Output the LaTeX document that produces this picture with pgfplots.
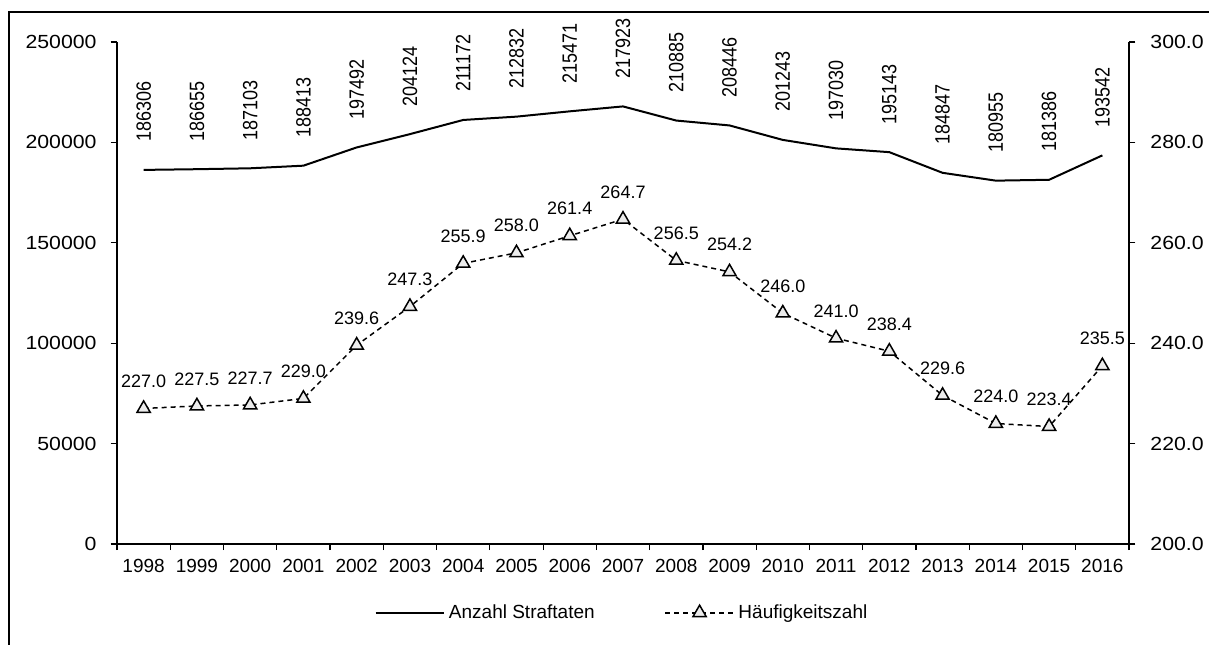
\documentclass[border=0pt]{standalone}
\usepackage{fontspec}
\setmainfont{Liberation Sans}
\newfontfamily\widefont[FakeStretch=1.12]{Liberation Sans}
\usepackage{pgfplots}
\pgfplotsset{compat=1.18}
\begin{document}
\begin{tikzpicture}[x=1pt,y=1pt]
\useasboundingbox (0,0) rectangle (604.5,322);
\draw[line width=0.75pt] (4.5,-1) -- (4.5,316) -- (606,316);
\begin{axis}[
  at={(58.5pt,50pt)}, anchor=south west,
  scale only axis, width=506pt, height=251pt,
  xmin=-0.5, xmax=18.5, ymin=0, ymax=250000,
  axis x line*=bottom, axis y line*=left,
  axis line style={line width=0.8pt},
  tick align=outside,
  scaled y ticks=false,
  xtick={0,...,18},
  xticklabels={1998,1999,2000,2001,2002,2003,2004,2005,2006,2007,2008,2009,2010,2011,2012,2013,2014,2015,2016},
  major x tick style={draw=none},
  minor xtick={-0.5,0.5,...,18.5},
  minor tick length=3pt, major tick length=3.2pt,
  every tick/.style={black, line width=0.6pt},
  ytick={0,50000,100000,150000,200000,250000},
  yticklabels={0,50000,100000,150000,200000,250000},
  yticklabel style={font=\widefont\fontsize{9.5}{11}\selectfont, xshift=-3.5pt},
  xticklabel style={font=\fontsize{9.5}{11}\selectfont, yshift=-1pt},
  clip=false,
]
\addplot[black, line width=1pt, nodes near coords={\scalebox{1}[1.15]{\pgfplotspointmeta}}, point meta=explicit symbolic,
  every node near coord/.style={font=\fontsize{9}{10}\selectfont, yshift=13.5pt, rotate=90, anchor=west, inner sep=0pt}]
coordinates {
(0,186306)[186306] (1,186655)[186655] (2,187103)[187103] (3,188413)[188413]
(4,197492)[197492] (5,204124)[204124] (6,211172)[211172] (7,212832)[212832]
(8,215471)[215471] (9,217923)[217923] (10,210885)[210885] (11,208446)[208446]
(12,201243)[201243] (13,197030)[197030] (14,195143)[195143] (15,184847)[184847]
(16,180955)[180955] (17,181386)[181386] (18,193542)[193542]
};
\end{axis}
\begin{axis}[
  at={(58.5pt,50pt)}, anchor=south west,
  scale only axis, width=506pt, height=251pt,
  xmin=-0.5, xmax=18.5, ymin=200, ymax=300,
  axis x line=none, axis y line*=right,
  axis line style={line width=0.8pt},
  tick align=outside, major tick length=3.2pt,
  every tick/.style={black, line width=0.6pt},
  ytick={200,220,240,260,280,300},
  yticklabels={200.0,220.0,240.0,260.0,280.0,300.0},
  yticklabel style={font=\widefont\fontsize{9.5}{11}\selectfont, xshift=4pt},
  clip=false,
  legend columns=2,
  legend style={at={(0.5,-0.137)}, anchor=center, draw=none, fill=none,
    font=\fontsize{9.5}{11}\selectfont,
    /tikz/every even column/.append style={column sep=33pt}},
  legend image code/.code={\draw[mark repeat=2,mark phase=2,#1] plot coordinates {(0cm,0cm) (0.6cm,0cm) (1.2cm,0cm)};},
]
\addlegendimage{black, line width=1pt}
\addlegendentry{Anzahl Straftaten}
\addplot[black, line width=0.75pt, dash pattern=on 2.5pt off 2pt,
  mark=triangle*, mark size=3.8pt,
  mark options={solid, fill=gray!15, draw=black, line width=0.75pt},
  nodes near coords, point meta=explicit symbolic,
  every node near coord/.style={font=\fontsize{9}{10}\selectfont, anchor=south, inner sep=0pt, yshift=10pt}]
coordinates {
(0,227.0)[227.0] (1,227.5)[227.5] (2,227.7)[227.7] (3,229.0)[229.0]
(4,239.6)[239.6] (5,247.3)[247.3] (6,255.9)[255.9] (7,258.0)[258.0]
(8,261.4)[261.4] (9,264.7)[264.7] (10,256.5)[256.5] (11,254.2)[254.2]
(12,246.0)[246.0] (13,241.0)[241.0] (14,238.4)[238.4] (15,229.6)[229.6]
(16,224.0)[224.0] (17,223.4)[223.4] (18,235.5)[235.5]
};
\addlegendentry{Häufigkeitszahl}
\end{axis}
\end{tikzpicture}
\end{document}
